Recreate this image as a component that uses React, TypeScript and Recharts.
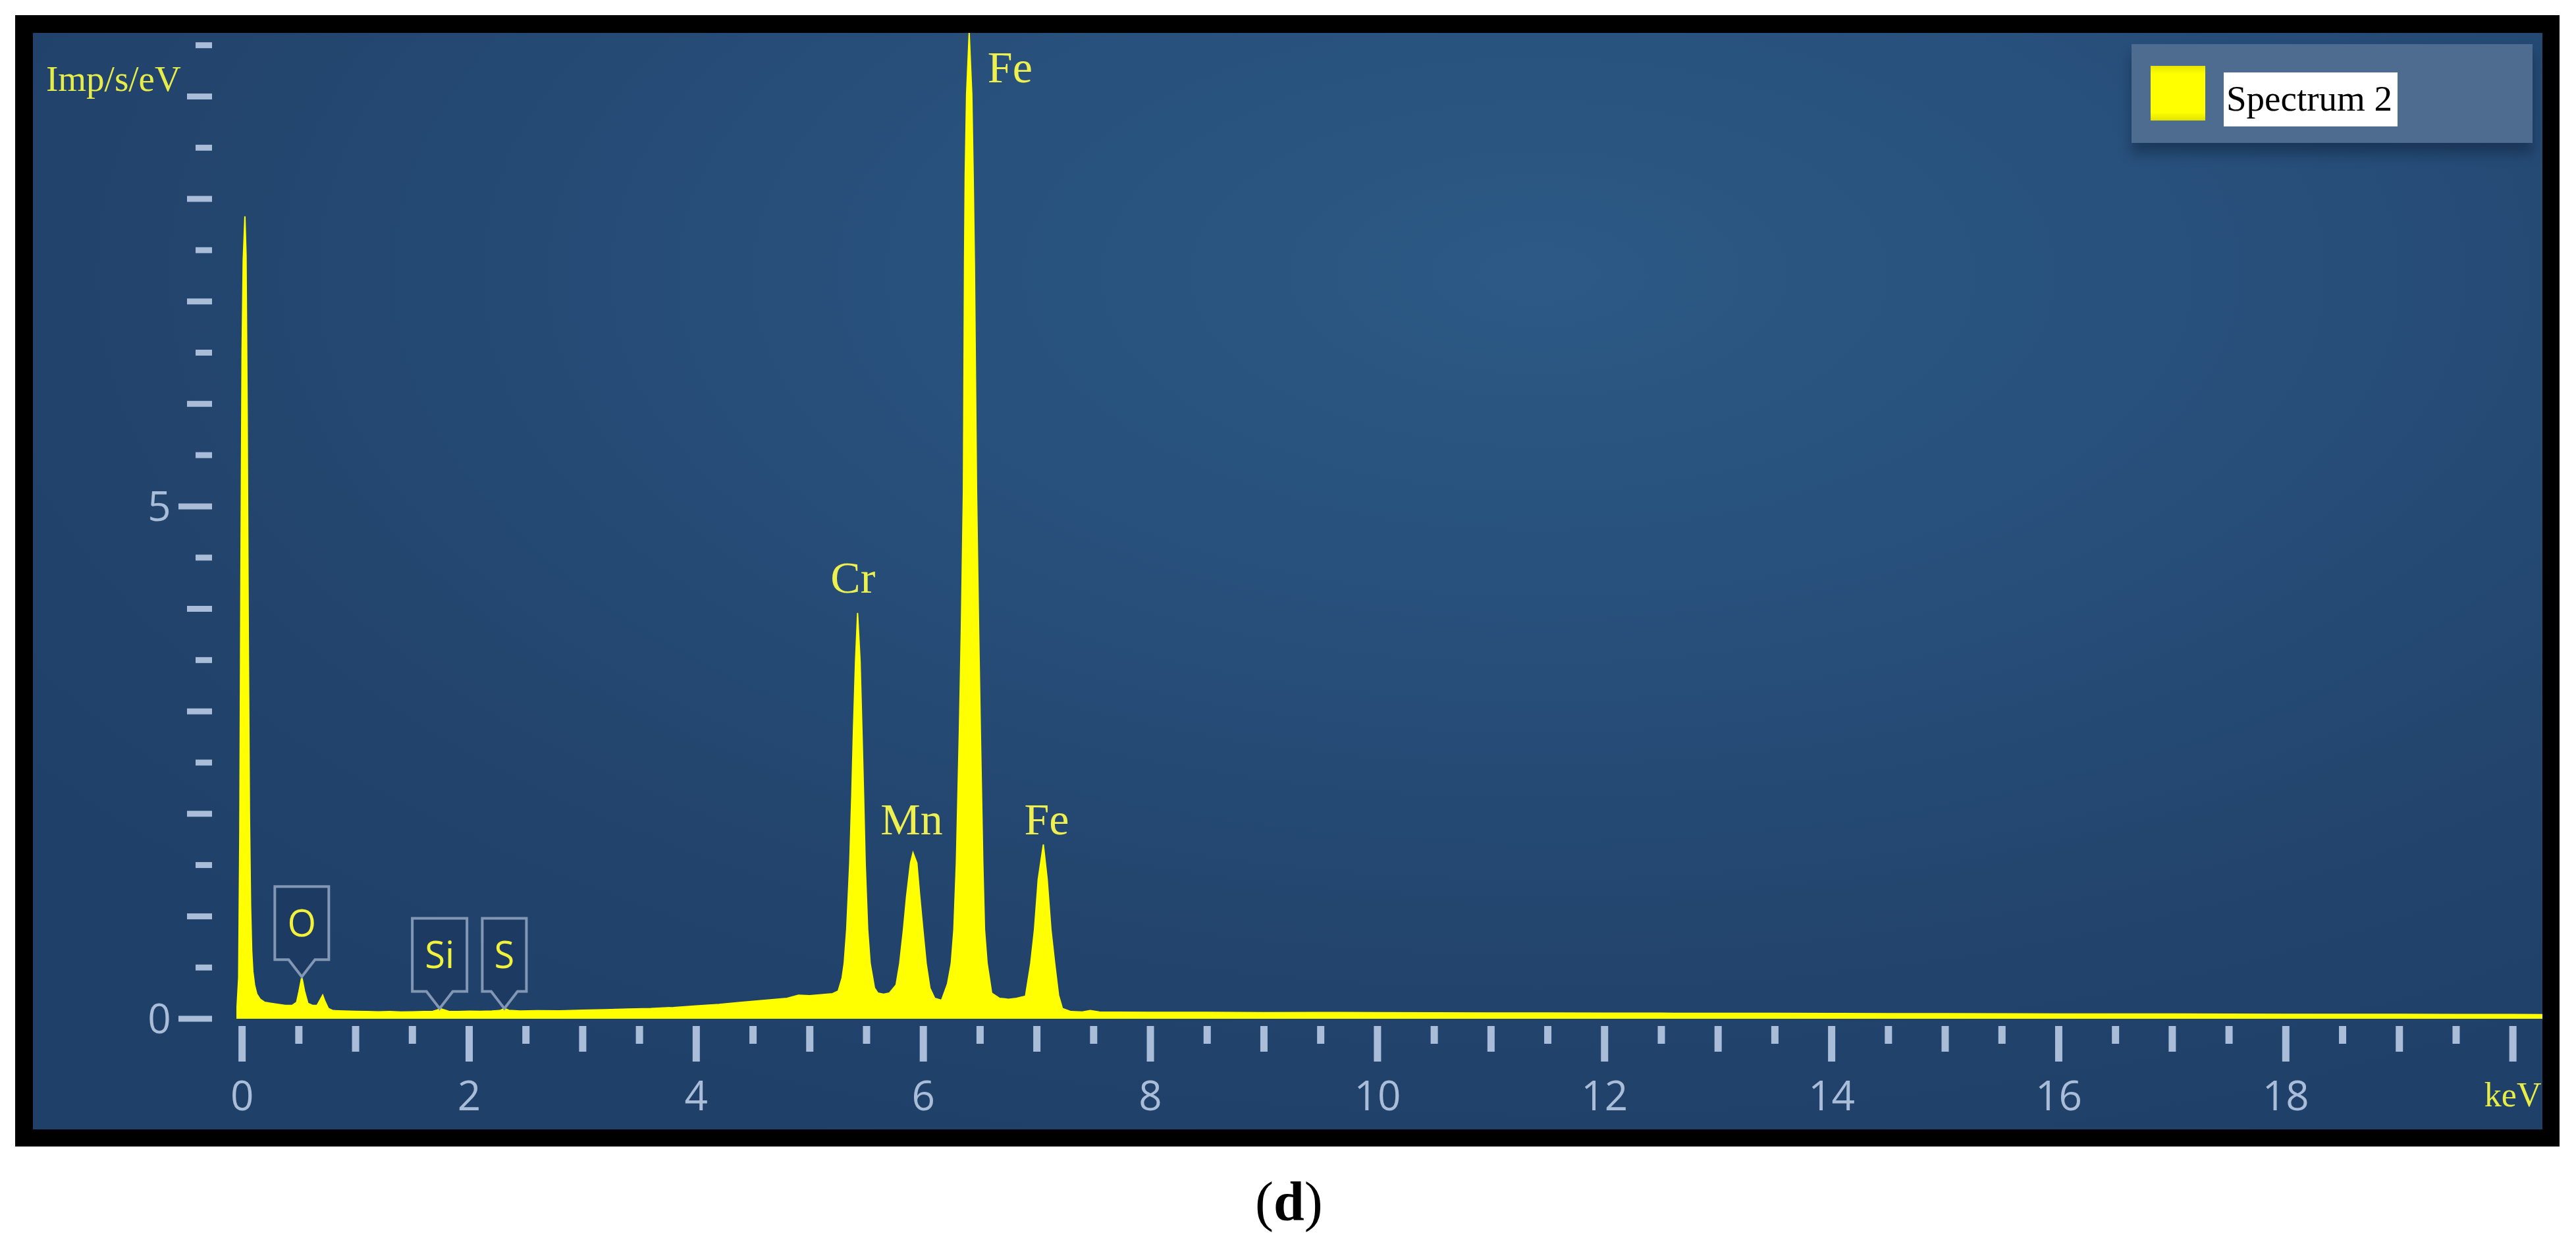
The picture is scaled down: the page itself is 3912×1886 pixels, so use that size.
import React from 'react';
import { AreaChart, Area, XAxis, YAxis, Legend, ReferenceDot } from 'recharts';

// EDS spectrum "Spectrum 2" (keV -> Imp/s/eV)
const lowKeV = [
  -0.05, -0.03, -0.02, -0.01, 0.0, 0.01, 0.025, 0.035, 0.045, 0.055, 0.065, 0.075,
  0.085, 0.095, 0.11, 0.13, 0.16, 0.2, 0.26, 0.32, 0.38, 0.44, 0.48, 0.5, 0.526,
  0.55, 0.58, 0.62, 0.66, 0.69, 0.71, 0.73, 0.76, 0.8, 0.9, 1.0, 1.1, 1.2, 1.3,
  1.4, 1.5, 1.6, 1.68, 1.72, 1.74, 1.77, 1.82, 1.9, 2.0, 2.1, 2.2, 2.27, 2.31,
  2.35, 2.45, 2.6, 2.8, 3.0, 3.2, 3.4, 3.6, 3.8, 4.0, 4.2, 4.4, 4.6, 4.8, 4.9,
  5.0, 5.1, 5.2,
];
const lowCounts = [
  0, 0.4, 1.8, 4.4, 6.5, 7.4, 7.83, 7.45, 5.9, 3.7, 2.0, 1.1,
  0.66, 0.46, 0.33, 0.24, 0.19, 0.16, 0.15, 0.14, 0.13, 0.13, 0.16, 0.26, 0.41,
  0.27, 0.15, 0.13, 0.13, 0.19, 0.23, 0.17, 0.1, 0.08, 0.075, 0.072, 0.07, 0.068, 0.07,
  0.066, 0.068, 0.07, 0.072, 0.085, 0.1, 0.09, 0.072, 0.07, 0.074, 0.072, 0.075, 0.08, 0.1,
  0.082, 0.076, 0.078, 0.077, 0.084, 0.088, 0.095, 0.1, 0.11, 0.125, 0.14, 0.16, 0.18, 0.2, 0.23,
  0.225, 0.235, 0.245,
];

const crMnKeV = [
  5.25, 5.285, 5.303, 5.325, 5.352, 5.37, 5.385, 5.403, 5.421, 5.443, 5.459, 5.474,
  5.488, 5.51, 5.532, 5.57, 5.6, 5.65, 5.7, 5.76, 5.792, 5.825, 5.852, 5.887, 5.909,
  5.943, 5.969, 5.996, 6.025, 6.058, 6.1, 6.16,
];
const crMnCounts = [
  0.27, 0.4, 0.54, 0.87, 1.52, 2.18, 2.83, 3.49, 3.96, 3.49, 2.83, 2.18,
  1.52, 0.87, 0.54, 0.3, 0.25, 0.24, 0.25, 0.33, 0.54, 0.87, 1.19, 1.52, 1.62,
  1.52, 1.19, 0.87, 0.54, 0.3, 0.2, 0.18,
];

const feKeV = [
  6.213, 6.246, 6.269, 6.291, 6.318, 6.335, 6.353, 6.363, 6.369, 6.381, 6.404, 6.427,
  6.439, 6.45, 6.469, 6.487, 6.502, 6.524, 6.539, 6.562, 6.602, 6.67, 6.75, 6.82,
  6.9, 6.946, 6.979, 7.012, 7.057, 7.091, 7.124, 7.157, 7.191, 7.225,
];
const feCounts = [
  0.34, 0.54, 0.87, 1.52, 2.83, 3.81, 5.14, 7.37, 8.23, 9.02, 9.62, 9.02,
  8.23, 7.37, 5.14, 3.81, 2.83, 1.52, 0.87, 0.54, 0.25, 0.2, 0.19, 0.2,
  0.22, 0.54, 0.87, 1.36, 1.7, 1.36, 0.87, 0.54, 0.23, 0.1,
];

const tailKeV = [
  7.3, 7.4, 7.47, 7.55, 7.7, 8.0, 8.5, 9.0, 9.5, 10, 10.5, 11, 11.5, 12, 12.5, 13,
  13.5, 14, 14.5, 15, 15.5, 16, 16.5, 17, 17.5, 18, 18.5, 19, 19.5, 20, 20.26,
];
const tailCounts = [
  0.07, 0.066, 0.08, 0.066, 0.064, 0.063, 0.062, 0.06, 0.061, 0.059, 0.058, 0.057, 0.057, 0.055, 0.054, 0.053,
  0.053, 0.051, 0.05, 0.05, 0.048, 0.047, 0.046, 0.046, 0.045, 0.044, 0.043, 0.043, 0.042, 0.041, 0.04,
];

// boxed element markers on the small peaks
const calloutNames = ['O', 'Si', 'S'];
const calloutKeV = [0.526, 1.74, 2.31];
const calloutCounts = [0.41, 0.1, 0.1];

// plain element labels on the big peaks
const peakNames = ['Cr', 'Mn', 'Fe', 'Fe'];
const peakKeV = [5.421, 5.909, 6.404, 7.057];
const peakCounts = [3.96, 1.62, 9.62, 1.7];

const xTicks = [
  0, 0.5, 1, 1.5, 2, 2.5, 3, 3.5, 4, 4.5, 5, 5.5, 6, 6.5, 7, 7.5, 8, 8.5, 9, 9.5, 10,
  10.5, 11, 11.5, 12, 12.5, 13, 13.5, 14, 14.5, 15, 15.5, 16, 16.5, 17, 17.5, 18, 18.5, 19, 19.5, 20,
];
const xTickLabels = [0, 2, 4, 6, 8, 10, 12, 14, 16, 18];
const yTicks = [0, 0.5, 1, 1.5, 2, 2.5, 3, 3.5, 4, 4.5, 5, 5.5, 6, 6.5, 7, 7.5, 8, 8.5, 9, 9.5];
const yTickLabels = [0, 5];

const spectrum = [
  ...lowKeV.map((k, i) => ({ keV: k, cps: lowCounts[i] })),
  ...crMnKeV.map((k, i) => ({ keV: k, cps: crMnCounts[i] })),
  ...feKeV.map((k, i) => ({ keV: k, cps: feCounts[i] })),
  ...tailKeV.map((k, i) => ({ keV: k, cps: tailCounts[i] })),
];

const tickColor = '#a9bcd8';
const sansFont = "'Open Sans', 'Noto Sans', sans-serif";
const serifFont = "'Liberation Serif', 'Times New Roman', serif";

const calloutWidth: Record<string, number> = { O: 82, Si: 83, S: 67 };
const peakLabelPos = [
  { dx: -7, dy: -31, anchor: 'middle' },
  { dx: -2, dy: -28, anchor: 'middle' },
  { dx: 28, dy: 75, anchor: 'start' },
  { dx: 5, dy: -15, anchor: 'middle' },
];

const XTick = (props: any) => {
  const { x, y, payload } = props;
  const v = payload.value;
  const len = v % 2 === 0 ? 54 : v % 1 === 0 ? 39 : 27;
  return (
    <g>
      <line x1={x} x2={x} y1={y + 11} y2={y + 11 + len} stroke={tickColor} strokeWidth={11} />
      {xTickLabels.includes(v) && (
        <text x={x} y={y + 139} textAnchor="middle" fill={tickColor} fontSize={62} fontFamily={sansFont}>
          {v}
        </text>
      )}
      {v === 20 && (
        <text x={x} y={y + 133} textAnchor="middle" fill="#e8ec48" fontSize={52} fontFamily={serifFont}>
          keV
        </text>
      )}
    </g>
  );
};

const YTick = (props: any) => {
  const { x, y, payload } = props;
  const v = payload.value;
  const labelled = yTickLabels.includes(v);
  const len = labelled ? 51 : v % 1 === 0 ? 38 : 25;
  return (
    <g>
      <line x1={x - 37 - len} x2={x - 37} y1={y} y2={y} stroke={tickColor} strokeWidth={9} />
      {labelled && (
        <text x={x - 117} y={y + 22} textAnchor="middle" fill={tickColor} fontSize={62} fontFamily={sansFont}>
          {v}
        </text>
      )}
    </g>
  );
};

const Callout = ({ cx, cy, name }: any) => {
  const w = calloutWidth[name] ?? 80;
  const top = cy - 137;
  const bottom = cy - 26;
  const left = cx - w / 2;
  const right = cx + w / 2;
  const d = `M${left},${top} H${right} V${bottom} H${cx + 20} L${cx},${cy} L${cx - 20},${bottom} H${left} Z`;
  return (
    <g>
      <path d={d} fill="#1d3b62" stroke="#8297b4" strokeWidth={4} />
      <text x={cx} y={(top + bottom) / 2 + 20} textAnchor="middle" fill="#f2f23c" fontSize={56} fontFamily={sansFont}>
        {name}
      </text>
    </g>
  );
};

const PeakLabel = ({ cx, cy, name, pos }: any) => (
  <text x={cx + pos.dx} y={cy + pos.dy} textAnchor={pos.anchor} fill="#eef050" fontSize={68} fontFamily={serifFont}>
    {name}
  </text>
);

const LegendBox = () => (
  <div
    style={{
      width: 609,
      height: 150,
      background: '#4e6c90',
      boxShadow: '0 16px 18px rgba(5, 15, 35, 0.35)',
      position: 'relative',
    }}
  >
    <div
      style={{
        position: 'absolute',
        left: 29,
        top: 33,
        width: 83,
        height: 83,
        background: 'linear-gradient(#e6e600, #ffff00 15%, #ffff00 85%, #e0e000)',
      }}
    />
    <div
      style={{
        position: 'absolute',
        left: 140,
        top: 43,
        width: 264,
        height: 82,
        background: '#ffffff',
        whiteSpace: 'nowrap',
        fontFamily: serifFont,
        fontSize: 55,
        lineHeight: '80px',
        color: '#000',
        paddingLeft: 4,
        boxSizing: 'border-box',
      }}
    >
      Spectrum 2
    </div>
  </div>
);

const App: React.FC = () => {
  return (
    <div style={{ position: 'absolute', left: 0, top: 0, width: 3912, height: 1886, background: '#fff', overflow: 'hidden' }}>
      <div style={{ position: 'absolute', left: 23, top: 23, width: 3864, height: 1718, background: '#000' }} />
      <div
        style={{
          position: 'absolute',
          left: 50,
          top: 50,
          width: 3811,
          height: 1665,
          background:
            'radial-gradient(ellipse 75% 85% at 60% 22%, #2c5986 0%, #274f7a 40%, #22446d 75%, #1f4068 100%)',
        }}
      >
        <AreaChart width={3811} height={1665} data={spectrum} margin={{ top: 0, right: 0, left: 0, bottom: 0 }}>
          <XAxis
            type="number"
            dataKey="keV"
            domain={[-0.05, 20.26]}
            allowDataOverflow
            ticks={xTicks}
            interval={0}
            height={168}
            axisLine={false}
            tickLine={false}
            tickSize={0}
            tickMargin={0}
            tick={<XTick />}
          />
          <YAxis
            type="number"
            domain={[0, 9.62]}
            allowDataOverflow
            ticks={yTicks}
            interval={0}
            width={309}
            axisLine={false}
            tickLine={false}
            tickSize={0}
            tickMargin={0}
            tick={<YTick />}
            label={(p: any) => (
              <text
                x={(p.viewBox?.x ?? 0) + 20}
                y={(p.viewBox?.y ?? 0) + 88}
                fill="#e6ec4a"
                fontSize={55}
                fontFamily={serifFont}
              >
                Imp/s/eV
              </text>
            )}
          />
          <Legend
            layout="vertical"
            align="center"
            verticalAlign="middle"
            wrapperStyle={{ left: 3187, top: 17, width: 609, height: 150 }}
            content={() => <LegendBox />}
          />
          <Area
            name="Spectrum 2"
            type="linear"
            dataKey="cps"
            stroke="#ffff00"
            strokeWidth={2}
            fill="#ffff00"
            fillOpacity={1}
            isAnimationActive={false}
          />
          {calloutNames.map((n, i) => (
            <ReferenceDot
              key={'c' + n}
              x={calloutKeV[i]}
              y={calloutCounts[i]}
              r={0}
              ifOverflow="visible"
              shape={(p: any) => <Callout cx={p.cx} cy={p.cy} name={n} />}
            />
          ))}
          {peakNames.map((n, i) => (
            <ReferenceDot
              key={'p' + i}
              x={peakKeV[i]}
              y={peakCounts[i]}
              r={0}
              ifOverflow="visible"
              shape={(p: any) => <PeakLabel cx={p.cx} cy={p.cy} name={n} pos={peakLabelPos[i]} />}
            />
          ))}
        </AreaChart>
      </div>
      <div
        style={{
          position: 'absolute',
          left: 1906,
          top: 1783,
          width: 100,
          textAlign: 'center',
          fontFamily: serifFont,
          fontSize: 84,
          lineHeight: 1,
          color: '#000',
        }}
      >
        (<b>d</b>)
      </div>
    </div>
  );
};

export default App;
